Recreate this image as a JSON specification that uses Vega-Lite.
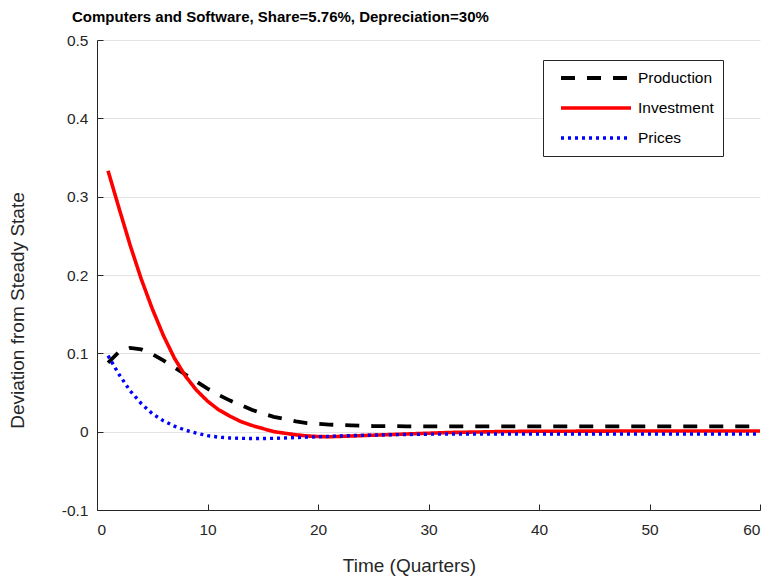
{
  "$schema": "https://vega.github.io/schema/vega-lite/v6.json",
  "autosize": "none",
  "width": 663,
  "height": 470,
  "padding": {"left": 97, "top": 40, "right": 13, "bottom": 71},
  "background": "white",
  "title": {
    "text": "Computers and Software, Share=5.76%, Depreciation=30%",
    "anchor": "start",
    "frame": "group",
    "dx": -25,
    "offset": 8,
    "font": "Liberation Sans",
    "fontSize": 15,
    "fontWeight": "bold",
    "color": "black"
  },
  "config": {
    "view": {"stroke": null},
    "axis": {
      "labelFont": "Liberation Sans",
      "titleFont": "Liberation Sans",
      "labelFontSize": 15.5,
      "titleFontSize": 19,
      "titleFontWeight": "normal",
      "labelColor": "#262626",
      "titleColor": "#262626",
      "domainColor": "#262626",
      "tickColor": "#262626",
      "tickSize": -6
    }
  },
  "data": {
    "values": [
      {"t": 1, "Production": 0.088, "Investment": 0.333, "Prices": 0.097},
      {"t": 2, "Production": 0.102, "Investment": 0.285, "Prices": 0.073},
      {"t": 3, "Production": 0.107, "Investment": 0.238, "Prices": 0.052},
      {"t": 4, "Production": 0.105, "Investment": 0.195, "Prices": 0.036},
      {"t": 5, "Production": 0.099, "Investment": 0.157, "Prices": 0.023},
      {"t": 6, "Production": 0.091, "Investment": 0.123, "Prices": 0.014},
      {"t": 7, "Production": 0.082, "Investment": 0.094, "Prices": 0.007},
      {"t": 8, "Production": 0.073, "Investment": 0.071, "Prices": 0.002},
      {"t": 9, "Production": 0.064, "Investment": 0.053, "Prices": -0.002},
      {"t": 10, "Production": 0.055, "Investment": 0.039, "Prices": -0.005},
      {"t": 11, "Production": 0.047, "Investment": 0.028, "Prices": -0.007},
      {"t": 12, "Production": 0.040, "Investment": 0.020, "Prices": -0.008},
      {"t": 13, "Production": 0.034, "Investment": 0.013, "Prices": -0.0085},
      {"t": 14, "Production": 0.028, "Investment": 0.008, "Prices": -0.0088},
      {"t": 15, "Production": 0.023, "Investment": 0.004, "Prices": -0.0088},
      {"t": 16, "Production": 0.019, "Investment": 0.000, "Prices": -0.0085},
      {"t": 17, "Production": 0.016, "Investment": -0.002, "Prices": -0.008},
      {"t": 18, "Production": 0.013, "Investment": -0.004, "Prices": -0.0075},
      {"t": 19, "Production": 0.011, "Investment": -0.0055, "Prices": -0.007},
      {"t": 20, "Production": 0.010, "Investment": -0.0062, "Prices": -0.0065},
      {"t": 21, "Production": 0.009, "Investment": -0.0065, "Prices": -0.006},
      {"t": 22, "Production": 0.0085, "Investment": -0.006, "Prices": -0.0055},
      {"t": 23, "Production": 0.008, "Investment": -0.0055, "Prices": -0.005},
      {"t": 24, "Production": 0.0075, "Investment": -0.005, "Prices": -0.0047},
      {"t": 25, "Production": 0.0072, "Investment": -0.0045, "Prices": -0.0044},
      {"t": 26, "Production": 0.007, "Investment": -0.004, "Prices": -0.0041},
      {"t": 27, "Production": 0.007, "Investment": -0.0035, "Prices": -0.0038},
      {"t": 28, "Production": 0.0068, "Investment": -0.003, "Prices": -0.0036},
      {"t": 29, "Production": 0.0068, "Investment": -0.0025, "Prices": -0.0034},
      {"t": 30, "Production": 0.0068, "Investment": -0.002, "Prices": -0.0032},
      {"t": 31, "Production": 0.0068, "Investment": -0.0015, "Prices": -0.0031},
      {"t": 32, "Production": 0.0068, "Investment": -0.001, "Prices": -0.003},
      {"t": 33, "Production": 0.0068, "Investment": -0.0008, "Prices": -0.003},
      {"t": 34, "Production": 0.0068, "Investment": -0.0005, "Prices": -0.003},
      {"t": 35, "Production": 0.0068, "Investment": -0.0003, "Prices": -0.003},
      {"t": 36, "Production": 0.0068, "Investment": 0.0, "Prices": -0.003},
      {"t": 37, "Production": 0.0068, "Investment": 0.0002, "Prices": -0.003},
      {"t": 38, "Production": 0.0068, "Investment": 0.0003, "Prices": -0.003},
      {"t": 39, "Production": 0.0068, "Investment": 0.0004, "Prices": -0.003},
      {"t": 40, "Production": 0.0068, "Investment": 0.0005, "Prices": -0.003},
      {"t": 41, "Production": 0.0068, "Investment": 0.0005, "Prices": -0.003},
      {"t": 42, "Production": 0.0068, "Investment": 0.0006, "Prices": -0.003},
      {"t": 43, "Production": 0.0068, "Investment": 0.0006, "Prices": -0.003},
      {"t": 44, "Production": 0.0068, "Investment": 0.0007, "Prices": -0.003},
      {"t": 45, "Production": 0.0068, "Investment": 0.0007, "Prices": -0.003},
      {"t": 46, "Production": 0.0068, "Investment": 0.0007, "Prices": -0.003},
      {"t": 47, "Production": 0.0068, "Investment": 0.0008, "Prices": -0.003},
      {"t": 48, "Production": 0.0068, "Investment": 0.0008, "Prices": -0.003},
      {"t": 49, "Production": 0.0068, "Investment": 0.0008, "Prices": -0.003},
      {"t": 50, "Production": 0.0068, "Investment": 0.0008, "Prices": -0.003},
      {"t": 51, "Production": 0.0068, "Investment": 0.0008, "Prices": -0.003},
      {"t": 52, "Production": 0.0068, "Investment": 0.0008, "Prices": -0.003},
      {"t": 53, "Production": 0.0068, "Investment": 0.0008, "Prices": -0.003},
      {"t": 54, "Production": 0.0068, "Investment": 0.0008, "Prices": -0.003},
      {"t": 55, "Production": 0.0068, "Investment": 0.0008, "Prices": -0.003},
      {"t": 56, "Production": 0.0068, "Investment": 0.0008, "Prices": -0.003},
      {"t": 57, "Production": 0.0068, "Investment": 0.0008, "Prices": -0.003},
      {"t": 58, "Production": 0.0068, "Investment": 0.0008, "Prices": -0.003},
      {"t": 59, "Production": 0.0068, "Investment": 0.0008, "Prices": -0.003},
      {"t": 60, "Production": 0.0068, "Investment": 0.0008, "Prices": -0.003}
    ]
  },
  "transform": [
    {"fold": ["Production", "Investment", "Prices"], "as": ["series", "value"]}
  ],
  "mark": {"type": "line", "clip": true},
  "encoding": {
    "x": {
      "field": "t",
      "type": "quantitative",
      "scale": {"domain": [0, 60], "nice": false},
      "axis": {
        "values": [0, 10, 20, 30, 40, 50, 60],
        "grid": false,
        "title": "Time (Quarters)",
        "titleX": 312,
        "titleY": 46,
        "labelPadding": 18
      }
    },
    "y": {
      "field": "value",
      "type": "quantitative",
      "scale": {"domain": [-0.1, 0.5], "nice": false, "zero": false},
      "axis": {
        "values": [-0.1, 0, 0.1, 0.2, 0.3, 0.4, 0.5],
        "labelExpr": "datum.value + ''",
        "grid": true,
        "gridColor": "#e3e3e3",
        "title": "Deviation from Steady State",
        "titleX": -70,
        "titleY": 270,
        "labelPadding": 15
      }
    },
    "color": {
      "field": "series",
      "type": "nominal",
      "scale": {
        "domain": ["Production", "Investment", "Prices"],
        "range": ["#000000", "#ff0000", "#0000ff"]
      },
      "legend": {
        "title": null,
        "orient": "none",
        "legendX": 446,
        "legendY": 20,
        "fillColor": "white",
        "strokeColor": "#262626",
        "padding": 9,
        "rowPadding": 12,
        "symbolType": "M0,0H10",
        "symbolSize": 196,
        "symbolStrokeWidth": 3,
        "labelFont": "Liberation Sans",
        "labelFontSize": 15.5,
        "labelColor": "black",
        "labelOffset": 68,
        "labelExpr": "datum.label + '\u00a0\u00a0\u00a0\u00a0\u00a0\u00a0\u00a0\u00a0\u00a0\u00a0'"
      }
    },
    "strokeDash": {
      "field": "series",
      "type": "nominal",
      "scale": {
        "domain": ["Production", "Investment", "Prices"],
        "range": [[14, 12], [1, 0], [3, 4]]
      },
      "legend": null
    },
    "strokeWidth": {
      "field": "series",
      "type": "nominal",
      "scale": {
        "domain": ["Production", "Investment", "Prices"],
        "range": [3.8, 3.4, 3.4]
      },
      "legend": null
    }
  }
}
